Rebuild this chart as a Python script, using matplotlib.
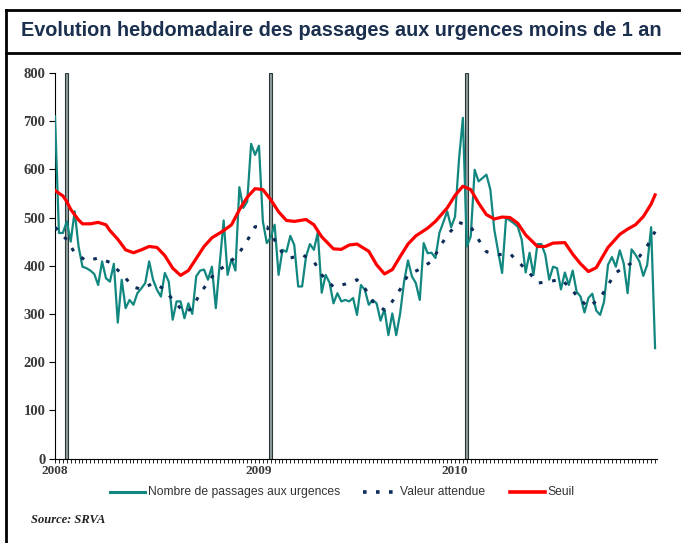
import matplotlib
matplotlib.use("Agg")
from matplotlib import pyplot as plt
from matplotlib.lines import Line2D

# nombre de passages par semaine (semaine 0 = debut 2008)
passages = [710, 468, 468, 492, 450, 513, 440, 398, 395, 390, 383, 360, 409, 374, 367, 404,
            282, 371, 312, 329, 319, 343, 353, 364, 409, 371, 350, 336, 385, 367, 288, 326,
            326, 291, 322, 300, 378, 390, 392, 371, 398, 312, 405, 494, 381, 414, 390, 563,
            520, 533, 653, 630, 649, 492, 447, 459, 485, 381, 433, 429, 462, 443, 357, 357,
            419, 445, 433, 469, 344, 381, 365, 322, 343, 326, 329, 326, 333, 298, 360, 350,
            319, 329, 322, 286, 310, 256, 301, 256, 301, 367, 411, 378, 364, 329, 447, 426,
            427, 416, 468, 490, 513, 480, 502, 620, 707, 440, 461, 599, 575, 582, 589, 558,
            475, 429, 385, 499, 494, 488, 481, 454, 386, 427, 381, 445, 445, 423, 371, 398,
            395, 351, 386, 360, 390, 346, 336, 303, 333, 342, 307, 298, 326, 402, 418, 398,
            432, 405, 343, 434, 423, 409, 379, 402, 480, 229]

attendu_sem = [0, 3, 5, 8, 11, 14, 17, 20, 22, 25, 28, 30, 33, 35, 37, 39, 41, 44, 47, 49,
               51, 54, 58, 60, 63, 66, 68, 71, 74, 77, 79, 81, 84, 86, 88, 90, 93, 96, 98,
               100, 103, 106, 108, 110, 113, 116, 118, 121, 123, 126, 129, 131, 134, 136,
               139, 141, 143, 146, 149, 151, 153]
attendu = [480, 454, 427, 410, 416, 407, 383, 356, 351, 364, 351, 329, 303, 312, 343, 365,
           388, 402, 427, 452, 481, 481, 426, 416, 423, 409, 381, 356, 362, 371, 353, 326,
           308, 326, 351, 381, 393, 409, 437, 464, 490, 481, 454, 429, 423, 425, 409, 385,
           364, 367, 372, 357, 329, 314, 333, 360, 386, 400, 419, 441, 471]

seuil_sem = [0, 2, 3, 4, 6, 7, 9, 11, 13, 14, 16, 18, 20, 22, 24, 26, 28, 30, 32, 34, 36,
             38, 40, 43, 45, 47, 49, 51, 53, 55, 57, 59, 61, 64, 66, 68, 71, 73, 75, 77, 80,
             82, 84, 86, 88, 90, 92, 95, 97, 100, 102, 104, 106, 108, 110, 112, 114, 116,
             118, 120, 123, 125, 127, 130, 132, 134, 136, 138, 141, 144, 146, 148, 150, 152,
             153]
seuil = [556, 545, 533, 517, 495, 487, 487, 490, 485, 473, 455, 433, 427, 433, 440, 438,
         421, 395, 380, 390, 415, 440, 458, 473, 485, 516, 542, 560, 558, 537, 512, 494,
         492, 496, 485, 460, 435, 434, 443, 445, 430, 402, 383, 392, 419, 445, 462, 478,
         492, 520, 546, 565, 558, 530, 506, 497, 501, 500, 488, 464, 440, 440, 447, 448,
         424, 404, 388, 396, 438, 465, 476, 485, 502, 528, 547]

annees = ["2008", "2009", "2010"]
annees_pos = [0, 52, 102]
barres = [3, 55, 105]

teal = "#11877f"
navy = "#0c2d5a"
rouge = "#ff0000"

fig = plt.figure(figsize=(6.81, 5.43), dpi=100)

# cadre et bandeau du titre
fig.add_artist(Line2D([0.0095, 0.0095], [0, 0.981], color="black", lw=2, transform=fig.transFigure))
fig.add_artist(Line2D([0.0095, 1], [0.981, 0.981], color="black", lw=2, transform=fig.transFigure))
fig.add_artist(Line2D([0.0095, 1], [0.903, 0.903], color="black", lw=2, transform=fig.transFigure))
fig.text(0.031, 0.943, "Evolution hebdomadaire des passages aux urgences moins de 1 an",
         fontsize=14.3, fontweight="bold", color="#1b2f4e", family="Liberation Sans",
         va="center", ha="left")

ax = fig.add_axes([0.0808, 0.1556, 0.884, 0.71])
x = list(range(len(passages)))

for b in barres:
    ax.axvspan(b - 0.4, b + 0.4, facecolor="#8e9e9c", edgecolor="#2c3938", lw=0.8, zorder=1)

ax.plot(x, passages, color=teal, lw=1.6, zorder=3)
ax.plot(attendu_sem, attendu, color=navy, lw=2.2, linestyle=(0, (1.2, 3.2)), zorder=4)
ax.plot(seuil_sem, seuil, color=rouge, lw=2.3, zorder=5)

ax.set_xlim(0, 153.5)
ax.set_ylim(0, 800)
ax.set_yticks(range(0, 801, 100))
ax.set_xticks(annees_pos)
ax.set_xticklabels(annees)
ax.set_xticks(x, minor=True)
for s in ["top", "right"]:
    ax.spines[s].set_visible(False)
ax.tick_params(axis="y", length=4, width=0.8, direction="out", pad=3)
ax.tick_params(axis="x", which="both", length=3, width=0.6, direction="out", pad=2)
for t in ax.get_yticklabels() + ax.get_xticklabels():
    t.set_fontfamily("Liberation Serif")
    t.set_fontweight("bold")
    t.set_color("#3a3a3a")
for t in ax.get_yticklabels():
    t.set_fontsize(10.5)
for t in ax.get_xticklabels():
    t.set_fontsize(9.5)

# legende placee a la main
ly = 0.094
items = [
    ((0.1615, 0.213), dict(color=teal, lw=2.2), "Nombre de passages aux urgences"),
    ((0.533, 0.583), dict(color=navy, lw=2.6, linestyle=(0, (1.0, 2.6))), "Valeur attendue"),
    ((0.749, 0.800), dict(color=rouge, lw=2.6), "Seuil"),
]
for (x0, x1), style, label in items:
    fig.add_artist(Line2D([x0, x1], [ly, ly], transform=fig.transFigure, **style))
    fig.text(x1 + 0.004, ly, label, fontsize=8.7, family="Liberation Sans",
             color="#333333", ha="left", va="center")

fig.text(0.045, 0.042, "Source: SRVA", fontsize=9, fontstyle="italic", fontweight="bold",
         family="Liberation Serif", color="#222222", ha="left", va="center")

fig.savefig("out.png", dpi=100)
